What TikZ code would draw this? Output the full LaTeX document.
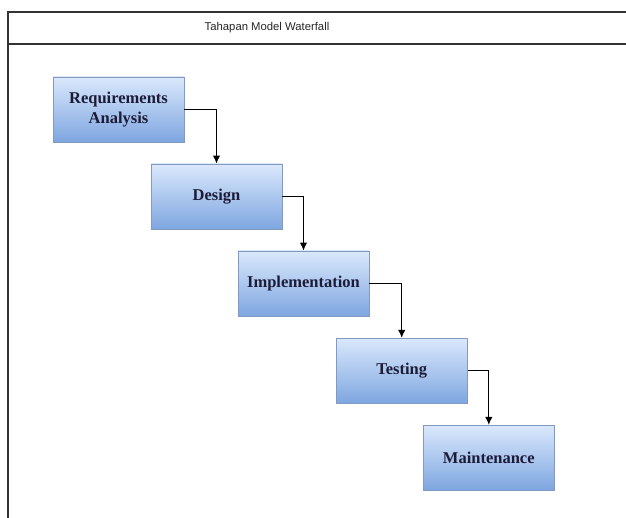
\documentclass[tikz,border=0pt]{standalone}
\usepackage{fontspec}
\setmainfont{Liberation Serif}
\newfontfamily\titlefont{Liberation Sans}
\usetikzlibrary{arrows.meta}
\definecolor{boxtop}{HTML}{DAE8FC}
\definecolor{boxbot}{HTML}{7EA6E0}
\definecolor{boxline}{HTML}{8399C0}
\definecolor{boxtext}{HTML}{1C1C38}
\definecolor{frameline}{HTML}{333333}
\tikzset{
  phase/.style={rectangle, draw=boxline, line width=0.8pt, top color=boxtop, bottom color=boxbot,
    minimum width=131pt, minimum height=65pt, inner sep=2pt, align=center,
    font=\fontsize{16.5}{20}\selectfont\bfseries, text=boxtext},
  flow/.style={draw=black, line width=1.2pt, -{Latex[length=8pt,width=7.5pt]}},
  frame/.style={draw=frameline, line width=1.4pt}
}
\begin{document}
\begin{tikzpicture}[x=1pt,y=-1pt]
\useasboundingbox (0,0) rectangle (626,518);
\fill[white] (0,0) rectangle (626,518);
\draw[frame] (8,518) -- (8,12) -- (626,12);
\draw[frame] (8,44) -- (626,44);
\node[font=\titlefont\fontsize{11.3}{13}\selectfont, text=black!85] (title) at (267,28) {Tahapan Model Waterfall};
\node[phase] (b1) at (118.5,109.5) {Requirements\\Analysis};
\node[phase] (b2) at (216.5,196.5) {Design};
\node[phase] (b3) at (303.5,283.5) {Implementation};
\node[phase] (b4) at (401.7,370.8) {Testing};
\node[phase] (b5) at (488.8,457.8) {Maintenance};
\draw[flow] (b1.east) -| (b2.north);
\draw[flow] (b2.east) -| (b3.north);
\draw[flow] (b3.east) -| (b4.north);
\draw[flow] (b4.east) -| (b5.north);
\end{tikzpicture}
\end{document}
